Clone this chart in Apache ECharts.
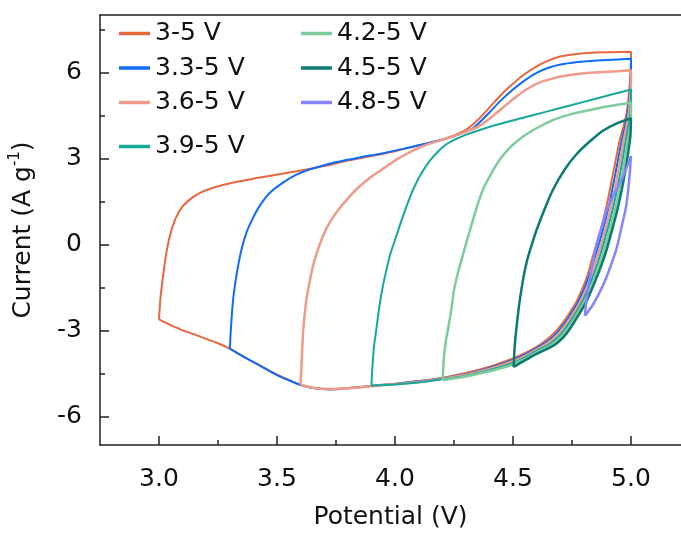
<!DOCTYPE html>
<html>
<head>
<meta charset="utf-8">
<script src="https://cdn.jsdelivr.net/npm/echarts@6/dist/echarts.min.js"></script>
<style>
html,body{margin:0;padding:0;background:#fff;}
#chart{width:681px;height:535px;}
</style>
</head>
<body>
<div id="chart"></div>
<script>
// ---- data: [potential (V), current (A g^-1)] ----
var seriesNames = ['3-5 V', '3.3-5 V', '3.6-5 V', '3.9-5 V', '4.2-5 V', '4.5-5 V', '4.8-5 V'];
var seriesColors = ['#E8673F', '#0F6CF7', '#EE9B89', '#16A89B', '#7ECB9C', '#0C7B70', '#8585FF'];

var cv3_0 = [
  [3.0,-2.62],[3.006,-1.9],[3.012,-1.45],[3.018,-1.06],[3.03,-0.35],[3.047,0.32],[3.07,0.9],[3.1,1.32],
  [3.14,1.62],[3.18,1.82],[3.24,2.0],[3.315,2.16],[3.42,2.32],[3.527,2.47],[3.62,2.6],[3.71,2.75],
  [3.8,2.92],[3.9,3.08],[4.0,3.25],[4.1,3.45],[4.2,3.66],[4.25,3.8],[4.3,3.99],[4.35,4.33],[4.4,4.77],
  [4.45,5.22],[4.5,5.6],[4.55,5.94],[4.6,6.21],[4.65,6.41],[4.7,6.55],[4.78,6.65],[4.88,6.7],[5.0,6.72],
  [5.0,6.4],[4.998,6.0],[4.992,5.3],[4.982,4.6],[4.968,4.1],[4.953,3.66],[4.925,2.51],[4.897,1.36],
  [4.869,0.44],[4.84,-0.37],[4.812,-1.17],[4.77,-1.98],[4.727,-2.55],[4.7,-2.85],[4.67,-3.13],
  [4.64,-3.35],[4.6,-3.58],[4.55,-3.8],[4.5,-3.98],[4.4,-4.27],[4.3,-4.49],[4.2,-4.65],[4.1,-4.77],
  [4.0,-4.86],[3.9,-4.93],[3.8,-5.01],[3.72,-5.05],[3.65,-5.0],[3.6,-4.9],[3.55,-4.73],[3.5,-4.55],
  [3.45,-4.33],[3.4,-4.1],[3.35,-3.88],[3.3,-3.64],[3.25,-3.45],[3.2,-3.3],[3.15,-3.14],[3.1,-3.0],
  [3.05,-2.82],[3.0,-2.62]
];
var cv3_3 = [
  [3.3,-3.64],[3.305,-2.9],[3.31,-2.3],[3.315,-1.86],[3.325,-1.25],[3.336,-0.71],[3.352,-0.1],[3.372,0.44],
  [3.4,0.95],[3.428,1.36],[3.47,1.8],[3.527,2.16],[3.58,2.42],[3.64,2.62],[3.7,2.76],[3.753,2.87],
  [3.85,3.03],[3.95,3.18],[4.05,3.36],[4.15,3.55],[4.25,3.77],[4.33,4.05],[4.4,4.6],[4.45,5.03],
  [4.5,5.4],[4.55,5.72],[4.6,5.98],[4.65,6.16],[4.713,6.29],[4.8,6.38],[4.9,6.43],[5.0,6.47],
  [5.0,6.15],[4.997,5.6],[4.99,4.9],[4.98,4.3],[4.962,3.66],[4.935,2.51],[4.907,1.36],[4.879,0.44],
  [4.85,-0.37],[4.82,-1.17],[4.778,-1.98],[4.736,-2.55],[4.709,-2.86],[4.679,-3.15],[4.645,-3.39],
  [4.6,-3.62],[4.55,-3.85],[4.5,-4.03],[4.4,-4.31],[4.3,-4.52],[4.2,-4.67],[4.1,-4.78],[4.0,-4.87],
  [3.9,-4.94],[3.8,-5.02],[3.72,-5.06],[3.65,-5.01],[3.6,-4.91],[3.55,-4.74],[3.5,-4.56],[3.45,-4.34],
  [3.4,-4.11],[3.35,-3.88],[3.3,-3.64]
];
var cv3_6 = [
  [3.6,-4.9],[3.605,-4.0],[3.611,-3.01],[3.618,-2.4],[3.626,-1.86],[3.64,-1.25],[3.654,-0.71],
  [3.675,-0.15],[3.696,0.32],[3.725,0.78],[3.753,1.13],[3.795,1.55],[3.838,1.93],[3.89,2.3],
  [3.95,2.64],[4.0,2.92],[4.05,3.16],[4.1,3.36],[4.15,3.52],[4.2,3.65],[4.25,3.78],[4.3,3.92],
  [4.36,4.14],[4.43,4.58],[4.5,5.06],[4.56,5.42],[4.614,5.65],[4.67,5.79],[4.727,5.89],[4.8,5.97],
  [4.9,6.02],[5.0,6.07],
  [5.0,5.75],[4.997,5.2],[4.99,4.5],[4.97,3.66],[4.945,2.51],[4.917,1.36],[4.889,0.44],[4.86,-0.37],
  [4.829,-1.17],[4.787,-1.98],[4.745,-2.55],[4.718,-2.87],[4.688,-3.17],[4.652,-3.42],[4.6,-3.67],
  [4.55,-3.9],[4.5,-4.08],[4.4,-4.35],[4.3,-4.55],[4.2,-4.69],[4.1,-4.8],[4.0,-4.88],[3.9,-4.95],
  [3.8,-5.02],[3.72,-5.05],[3.65,-5.0],[3.6,-4.9]
];
var cv3_9 = [
  [3.9,-4.93],[3.905,-4.2],[3.912,-3.5],[3.922,-2.9],[3.935,-2.1],[3.95,-1.4],[3.965,-0.85],[3.979,-0.37],
  [4.0,0.15],[4.021,0.67],[4.05,1.35],[4.078,1.93],[4.11,2.45],[4.148,2.92],[4.19,3.3],[4.219,3.5],
  [4.26,3.68],[4.3,3.82],[4.43,4.17],[4.55,4.43],[4.642,4.63],[4.75,4.86],[4.85,5.08],[4.93,5.25],
  [5.0,5.4],
  [5.0,5.0],[4.995,4.4],[4.979,3.66],[4.955,2.51],[4.927,1.36],[4.898,0.44],[4.87,-0.37],[4.837,-1.17],
  [4.795,-1.98],[4.754,-2.55],[4.727,-2.88],[4.697,-3.19],[4.66,-3.45],[4.6,-3.72],[4.55,-3.95],
  [4.5,-4.14],[4.4,-4.39],[4.3,-4.58],[4.2,-4.71],[4.1,-4.82],[4.0,-4.89],[3.9,-4.93]
];
var cv4_2 = [
  [4.202,-4.74],[4.207,-4.0],[4.215,-3.4],[4.226,-2.9],[4.24,-2.2],[4.25,-1.6],[4.265,-1.05],
  [4.29,-0.3],[4.318,0.5],[4.345,1.25],[4.374,1.93],[4.41,2.5],[4.445,2.97],[4.49,3.4],[4.544,3.77],
  [4.6,4.05],[4.671,4.34],[4.75,4.55],[4.85,4.73],[4.93,4.85],[5.0,4.94],
  [5.0,4.5],[4.996,4.1],[4.987,3.66],[4.965,2.51],[4.937,1.36],[4.908,0.44],[4.88,-0.37],[4.846,-1.17],
  [4.804,-1.98],[4.763,-2.55],[4.736,-2.89],[4.706,-3.21],[4.668,-3.48],[4.6,-3.77],[4.55,-4.0],
  [4.5,-4.19],[4.4,-4.43],[4.3,-4.61],[4.202,-4.74]
];
var cv4_5 = [
  [4.503,-4.28],[4.507,-3.6],[4.515,-2.9],[4.528,-2.0],[4.544,-1.17],[4.56,-0.55],[4.58,0.0],[4.6,0.5],
  [4.635,1.25],[4.671,1.93],[4.72,2.62],[4.77,3.15],[4.83,3.62],[4.883,3.97],[4.94,4.22],[5.0,4.4],
  [4.999,4.0],[4.996,3.66],[4.975,2.51],[4.947,1.36],[4.918,0.44],[4.89,-0.37],[4.854,-1.17],
  [4.812,-1.98],[4.772,-2.55],[4.745,-2.9],[4.715,-3.23],[4.676,-3.51],[4.6,-3.82],[4.55,-4.05],
  [4.503,-4.28]
];
var cv4_8 = [
  [4.805,-2.49],[4.84,-2.09],[4.883,-1.4],[4.912,-0.8],[4.939,-0.14],[4.96,0.6],[4.98,1.36],
  [4.993,2.3],[5.0,3.08],
  [4.985,2.75],[4.968,2.39],[4.945,2.0],[4.925,1.7],[4.9,1.25],[4.883,0.78],[4.854,-0.02],
  [4.826,-1.17],[4.809,-2.09],[4.805,-2.49]
];
var seriesData = [cv3_0, cv3_3, cv3_6, cv3_9, cv4_2, cv4_5, cv4_8];
var seriesWidths = [2, 2, 2.5, 2, 2.5, 2.5, 2.5];

// ---- axes ----
var xMajorTicks = [3.0, 3.5, 4.0, 4.5, 5.0];
var xMinorTicks = [3.25, 3.75, 4.25, 4.75];
var yMajorTicks = [-6, -3, 0, 3, 6];
var yMinorTicks = [-4.5, -1.5, 1.5, 4.5, 7.5];
var X_MIN = 2.75, X_MAX = 5.212, Y_MIN = -7, Y_MAX = 8;

var FONT = '"DejaVu Sans", sans-serif';
var AX = '#222';

var chart = echarts.init(document.getElementById('chart'), null, {renderer: 'canvas'});

var series = seriesNames.map(function (n, i) {
  return {
    name: n, type: 'line', data: seriesData[i], xAxisIndex: 0, yAxisIndex: 0,
    symbol: 'none', showSymbol: false, smooth: 0.3, animation: false,
    lineStyle: {color: seriesColors[i], width: seriesWidths[i]},
    itemStyle: {color: seriesColors[i]}
  };
});

function legendCfg(names, left, top) {
  return {
    data: names, left: left, top: top, orient: 'vertical', padding: 0, itemGap: 9.5,
    icon: 'rect', itemWidth: 31, itemHeight: 3.5,
    textStyle: {fontFamily: FONT, fontSize: 25, color: '#111', lineHeight: 25}, selectedMode: false
  };
}

chart.setOption({
  animation: false,
  backgroundColor: '#fff',
  grid: {left: 100, top: 15, right: 0, bottom: 86, containLabel: false},
  legend: [
    legendCfg(['3-5 V', '3.3-5 V', '3.6-5 V'], 119, 21),
    legendCfg(['4.2-5 V', '4.5-5 V', '4.8-5 V'], 301, 21),
    legendCfg(['3.9-5 V'], 119, 134)
  ],
  xAxis: [
    {
      type: 'value', min: X_MIN, max: X_MAX, position: 'bottom',
      axisLine: {show: true, onZero: false, lineStyle: {color: AX, width: 1.5}},
      axisTick: {show: true, inside: true, length: 9, customValues: xMajorTicks, lineStyle: {color: AX, width: 1.5}},
      axisLabel: {show: true, customValues: xMajorTicks, margin: 22, fontFamily: FONT, fontSize: 25, color: '#111',
        formatter: function (v) { return v.toFixed(1); }},
      splitLine: {show: false},
      name: 'Potential (V)', nameLocation: 'middle', nameGap: 60,
      nameTextStyle: {fontFamily: FONT, fontSize: 25, color: '#111'}
    },
    {
      type: 'value', min: X_MIN, max: X_MAX, position: 'bottom',
      axisLine: {show: false, onZero: false},
      axisTick: {show: true, inside: true, length: 5, customValues: xMinorTicks, lineStyle: {color: AX, width: 1.5}},
      axisLabel: {show: false}, splitLine: {show: false}
    },
    {
      type: 'value', min: X_MIN, max: X_MAX, position: 'top',
      axisLine: {show: true, onZero: false, lineStyle: {color: AX, width: 1.5}},
      axisTick: {show: false}, axisLabel: {show: false}, splitLine: {show: false}
    }
  ],
  yAxis: [
    {
      type: 'value', min: Y_MIN, max: Y_MAX, position: 'left',
      axisLine: {show: true, onZero: false, lineStyle: {color: AX, width: 1.5}},
      axisTick: {show: true, inside: true, length: 9, customValues: yMajorTicks, lineStyle: {color: AX, width: 1.5}},
      axisLabel: {show: true, customValues: yMajorTicks, margin: 18, fontFamily: FONT, fontSize: 25, color: '#111'},
      splitLine: {show: false},
      name: '{t|Current (A g}{s|-1}{t|)}', nameLocation: 'middle', nameGap: 62, nameRotate: 90,
      nameTextStyle: {
        fontFamily: FONT, fontSize: 25, color: '#111',
        rich: {
          t: {fontFamily: FONT, fontSize: 25, color: '#111', lineHeight: 30},
          s: {fontFamily: FONT, fontSize: 15, color: '#111', verticalAlign: 'top', lineHeight: 15}
        }
      }
    },
    {
      type: 'value', min: Y_MIN, max: Y_MAX, position: 'left',
      axisLine: {show: false, onZero: false},
      axisTick: {show: true, inside: true, length: 5, customValues: yMinorTicks, lineStyle: {color: AX, width: 1.5}},
      axisLabel: {show: false}, splitLine: {show: false}
    }
  ],
  series: series
});
</script>
</body>
</html>
